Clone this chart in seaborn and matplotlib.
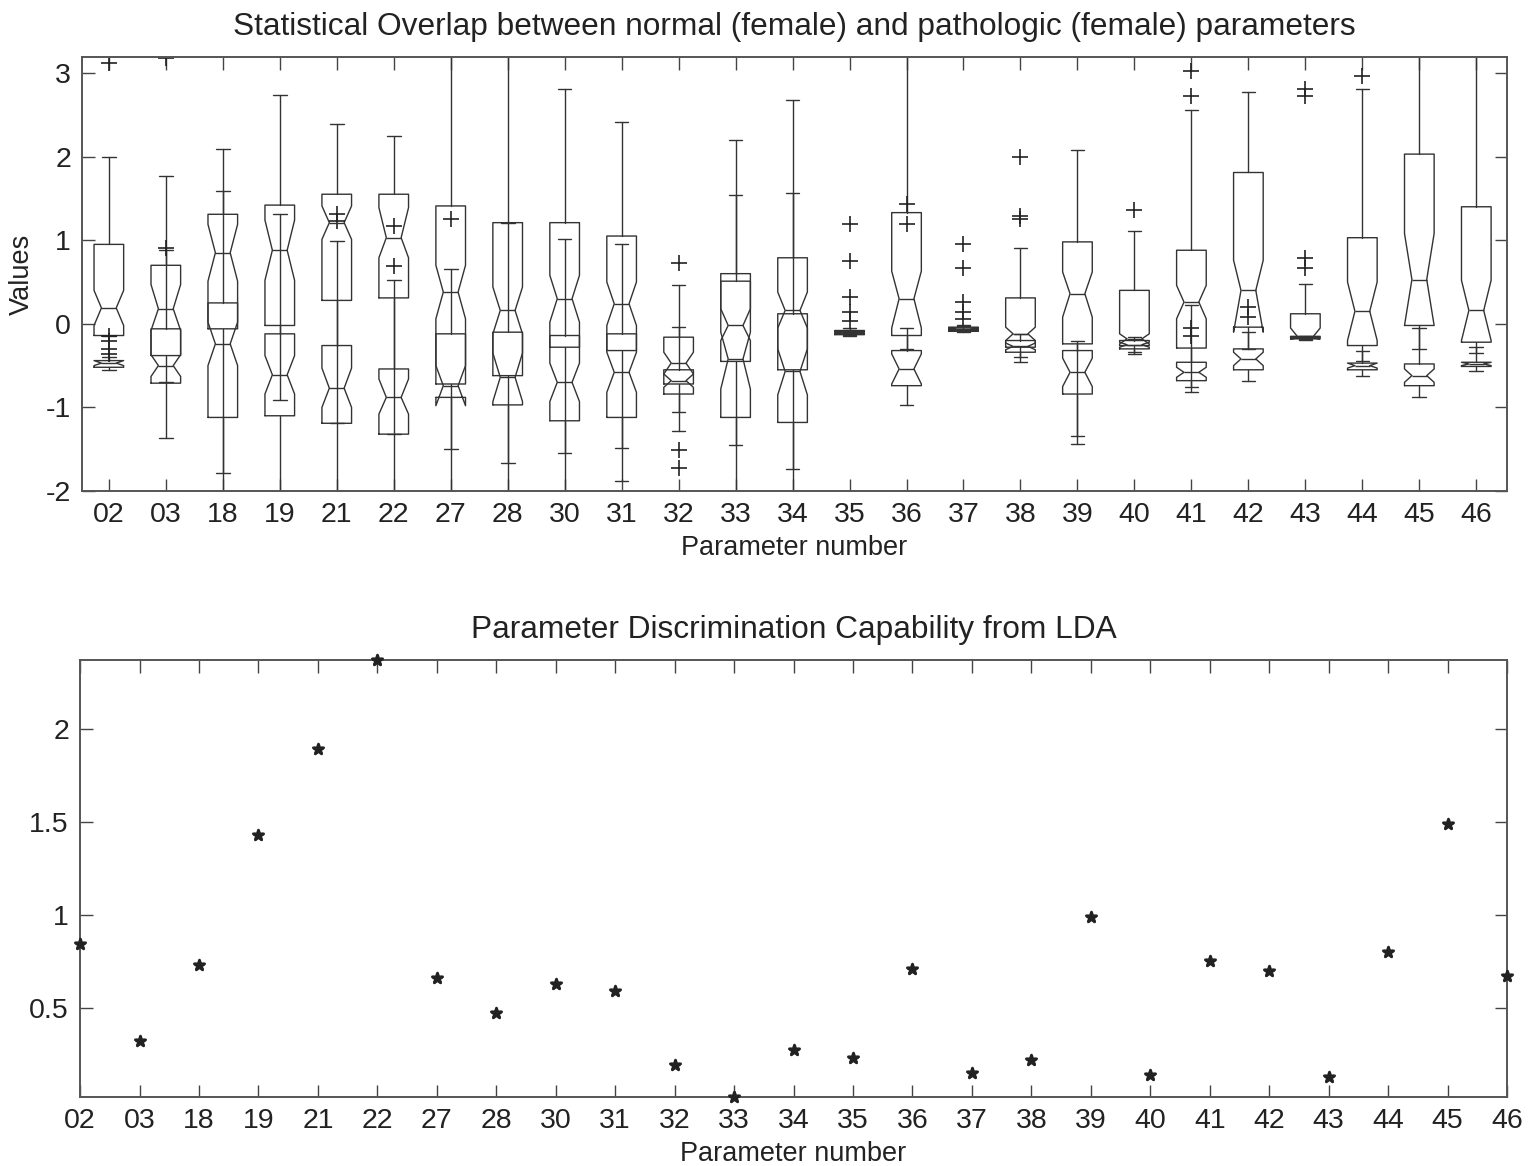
import matplotlib
matplotlib.use("Agg")
import matplotlib.pyplot as plt
import seaborn as sns
import pandas as pd

# Parameter identifiers shown on both x axes
params = ["02", "03", "18", "19", "21", "22", "27", "28", "30", "31", "32", "33", "34",
          "35", "36", "37", "38", "39", "40", "41", "42", "43", "44", "45", "46"]

# Box statistics for the normal (female) group
normal_q1 = [-0.14, -0.38, -0.06, -0.02, 0.28, 0.31, -0.72, -0.62, -0.28, -0.32, -0.72, -0.45, -0.55,
             -0.12, -0.14, -0.08, -0.28, -0.24, -0.26, -0.29, -0.04, -0.17, -0.26, -0.02, -0.22]
normal_med = [0.19, 0.18, 0.85, 0.88, 1.21, 1.03, 0.38, 0.16, 0.30, 0.24, -0.47, -0.02, 0.16,
              -0.10, 0.30, -0.06, -0.12, 0.36, -0.18, 0.26, 0.40, -0.16, 0.15, 0.53, 0.16]
normal_q3 = [0.95, 0.70, 1.31, 1.42, 1.55, 1.55, 1.41, 1.21, 1.21, 1.05, -0.16, 0.60, 0.79,
             -0.08, 1.33, -0.04, 0.31, 0.98, 0.40, 0.88, 1.81, 0.12, 1.03, 2.03, 1.40]
normal_lo = [-0.14, -0.70, -1.78, -0.91, -1.19, -1.32, -1.50, -1.66, -1.54, -1.48, -1.28, -1.45, -1.74,
             -0.13, -0.30, -0.09, -0.46, -1.34, -0.36, -0.81, -0.30, -0.18, -0.45, -0.30, -0.35]
normal_hi = [1.99, 1.77, 2.09, 2.74, 2.39, 2.25, 3.60, 3.60, 2.81, 2.42, 0.47, 2.20, 2.68,
             -0.05, 3.60, -0.02, 0.91, 2.08, 1.11, 2.56, 2.77, 0.48, 2.81, 3.60, 3.60]
normal_cilo = [-0.02, -0.08, 0.51, 0.52, 1.01, 0.79, 0.06, -0.12, 0.02, -0.02, -0.60, -0.20, -0.05,
               -0.11, -0.05, -0.07, -0.20, 0.08, -0.24, 0.06, -0.10, -0.17, -0.20, -0.02, -0.20]
normal_cihi = [0.40, 0.47, 1.19, 1.24, 1.41, 1.39, 0.70, 0.44, 0.58, 0.50, -0.34, 0.18, 0.38,
               -0.09, 0.63, -0.05, -0.04, 0.62, -0.12, 0.46, 0.76, -0.05, 0.50, 1.08, 0.52]
normal_fliers = [[3.12], [3.18], [], [], [], [], [1.25], [], [], [], [0.73], [], [],
                 [1.19, 0.75, 0.32, 0.14, 0.03], [], [0.96, 0.67, 0.26, 0.14, 0.06],
                 [1.25, 1.29, 2.00], [], [1.36], [2.72, 3.02], [], [0.67, 0.79, 2.73, 2.81],
                 [2.97], [], []]

# Box statistics for the pathologic (female) group
patho_q1 = [-0.52, -0.71, -1.12, -1.10, -1.19, -1.32, -0.88, -0.97, -1.16, -1.12, -0.84, -1.12, -1.18,
            -0.13, -0.74, -0.09, -0.34, -0.84, -0.30, -0.68, -0.55, -0.18, -0.55, -0.74, -0.51]
patho_med = [-0.47, -0.50, -0.24, -0.61, -0.77, -0.88, -0.74, -0.64, -0.70, -0.58, -0.68, -0.42, -0.57,
             -0.11, -0.54, -0.07, -0.27, -0.58, -0.25, -0.58, -0.42, -0.17, -0.50, -0.62, -0.48]
patho_q3 = [-0.44, -0.06, 0.25, -0.12, -0.26, -0.54, -0.12, -0.10, -0.14, -0.12, -0.55, 0.51, 0.12,
            -0.09, -0.32, -0.05, -0.20, -0.32, -0.20, -0.46, -0.30, -0.15, -0.47, -0.48, -0.46]
patho_lo = [-0.55, -1.36, -2.40, -2.40, -2.40, -2.40, -2.40, -2.00, -2.40, -1.88, -1.06, -2.40, -2.40,
            -0.14, -0.97, -0.10, -0.40, -1.44, -0.34, -0.75, -0.68, -0.19, -0.62, -0.88, -0.57]
patho_hi = [-0.40, 0.88, 1.59, 1.31, 0.99, 0.53, 0.65, 1.21, 1.01, 0.96, -0.04, 1.54, 1.56,
            -0.07, -0.05, -0.03, -0.12, -0.20, -0.16, 0.22, -0.10, -0.14, -0.32, -0.05, -0.28]
patho_cilo = [-0.50, -0.63, -0.50, -0.84, -1.00, -1.08, -0.98, -0.93, -0.93, -0.82, -0.76, -0.78, -0.85,
              -0.12, -0.72, -0.08, -0.31, -0.75, -0.28, -0.64, -0.50, -0.18, -0.53, -0.70, -0.50]
patho_cihi = [-0.44, -0.37, 0.02, -0.38, -0.53, -0.66, -0.50, -0.35, -0.47, -0.34, -0.60, -0.10, -0.30,
              -0.10, -0.36, -0.06, -0.23, -0.41, -0.22, -0.52, -0.34, -0.16, -0.47, -0.54, -0.46]
patho_fliers = [[-0.14, -0.20, -0.30, -0.36], [0.91], [], [], [1.23, 1.31], [0.69, 1.17], [], [], [], [],
                [-1.51, -1.73], [], [], [], [1.19, 1.43], [], [], [], [], [-0.05, -0.15],
                [0.08, 0.20], [], [], [], []]

# LDA discrimination capability per parameter
lda_score = [0.84, 0.32, 0.73, 1.43, 1.89, 2.37, 0.66, 0.47, 0.63, 0.59, 0.19, 0.02, 0.27,
             0.23, 0.71, 0.15, 0.22, 0.99, 0.14, 0.75, 0.70, 0.13, 0.80, 1.49, 0.67]

sns.set_theme(style="ticks")
plt.rcParams["font.family"] = ["Liberation Sans", "DejaVu Sans"]
ink = "#222222"
plt.rcParams.update({
    "text.color": ink, "axes.labelcolor": ink, "xtick.color": "#444444",
    "ytick.color": "#444444", "xtick.labelcolor": ink, "ytick.labelcolor": ink,
    "axes.edgecolor": "#555555", "axes.linewidth": 1.4, "axes.unicode_minus": False,
})

FS = 19.5
TITLE_FS = 22.8


def build_stats(q1, med, q3, lo, hi, cilo, cihi, fliers):
    return [dict(q1=a, med=b, q3=c, whislo=d, whishi=e, cilo=f, cihi=g, fliers=h)
            for a, b, c, d, e, f, g, h in zip(q1, med, q3, lo, hi, cilo, cihi, fliers)]


fig = plt.figure(figsize=(15.28, 11.66), dpi=100)
ax1 = fig.add_axes([0.0537, 0.5789, 0.9326, 0.3721])
ax2 = fig.add_axes([0.0524, 0.0592, 0.9339, 0.3748])

positions = list(range(len(params)))
line = dict(color="#333333", linewidth=1.0)
for stats in (build_stats(normal_q1, normal_med, normal_q3, normal_lo, normal_hi,
                          normal_cilo, normal_cihi, normal_fliers),
              build_stats(patho_q1, patho_med, patho_q3, patho_lo, patho_hi,
                          patho_cilo, patho_cihi, patho_fliers)):
    ax1.bxp(stats, positions=positions, widths=0.52, capwidths=0.24,
            shownotches=True, showfliers=True, manage_ticks=False,
            boxprops=line, whiskerprops=line, capprops=line, medianprops=line,
            flierprops=dict(marker="+", markeredgecolor="#222222", markersize=11,
                            markeredgewidth=1.2, linestyle="none"))

ax1.set_xlim(-0.47, 24.54)
ax1.set_ylim(-2.0, 3.19)
ax1.set_xticks(positions)
ax1.set_xticklabels(params)
ax1.set_yticks([-2, -1, 0, 1, 2, 3])
ax1.set_title("Statistical Overlap between normal (female) and pathologic (female) parameters",
              fontsize=TITLE_FS, pad=16)
ax1.set_xlabel("Parameter number", fontsize=FS, labelpad=5)
ax1.set_ylabel("Values", fontsize=FS, labelpad=8)

lda = pd.DataFrame({"pos": positions, "param": params, "score": lda_score})
sns.scatterplot(data=lda, x="pos", y="score", ax=ax2, marker="*", s=60,
                color="#222222", edgecolor="#222222", linewidth=2.0, clip_on=False,
                legend=False, zorder=3)
ax2.set_xlim(0, 24)
ax2.set_ylim(0.02, 2.37)
ax2.set_xticks(positions)
ax2.set_xticklabels(params)
ax2.set_yticks([0.5, 1, 1.5, 2])
ax2.set_yticklabels(["0.5", "1", "1.5", "2"])
ax2.set_title("Parameter Discrimination Capability from LDA", fontsize=TITLE_FS, pad=16)
ax2.set_xlabel("Parameter number", fontsize=FS, labelpad=5)
ax2.set_ylabel("")

for ax in (ax1, ax2):
    for s in ax.spines.values():
        s.set_visible(True)
    ax.tick_params(axis="both", which="major", direction="in", length=9, width=1.0,
                   top=True, right=True, labelsize=FS + 1, pad=8)

fig.savefig("out.png", dpi=100, facecolor="white")
